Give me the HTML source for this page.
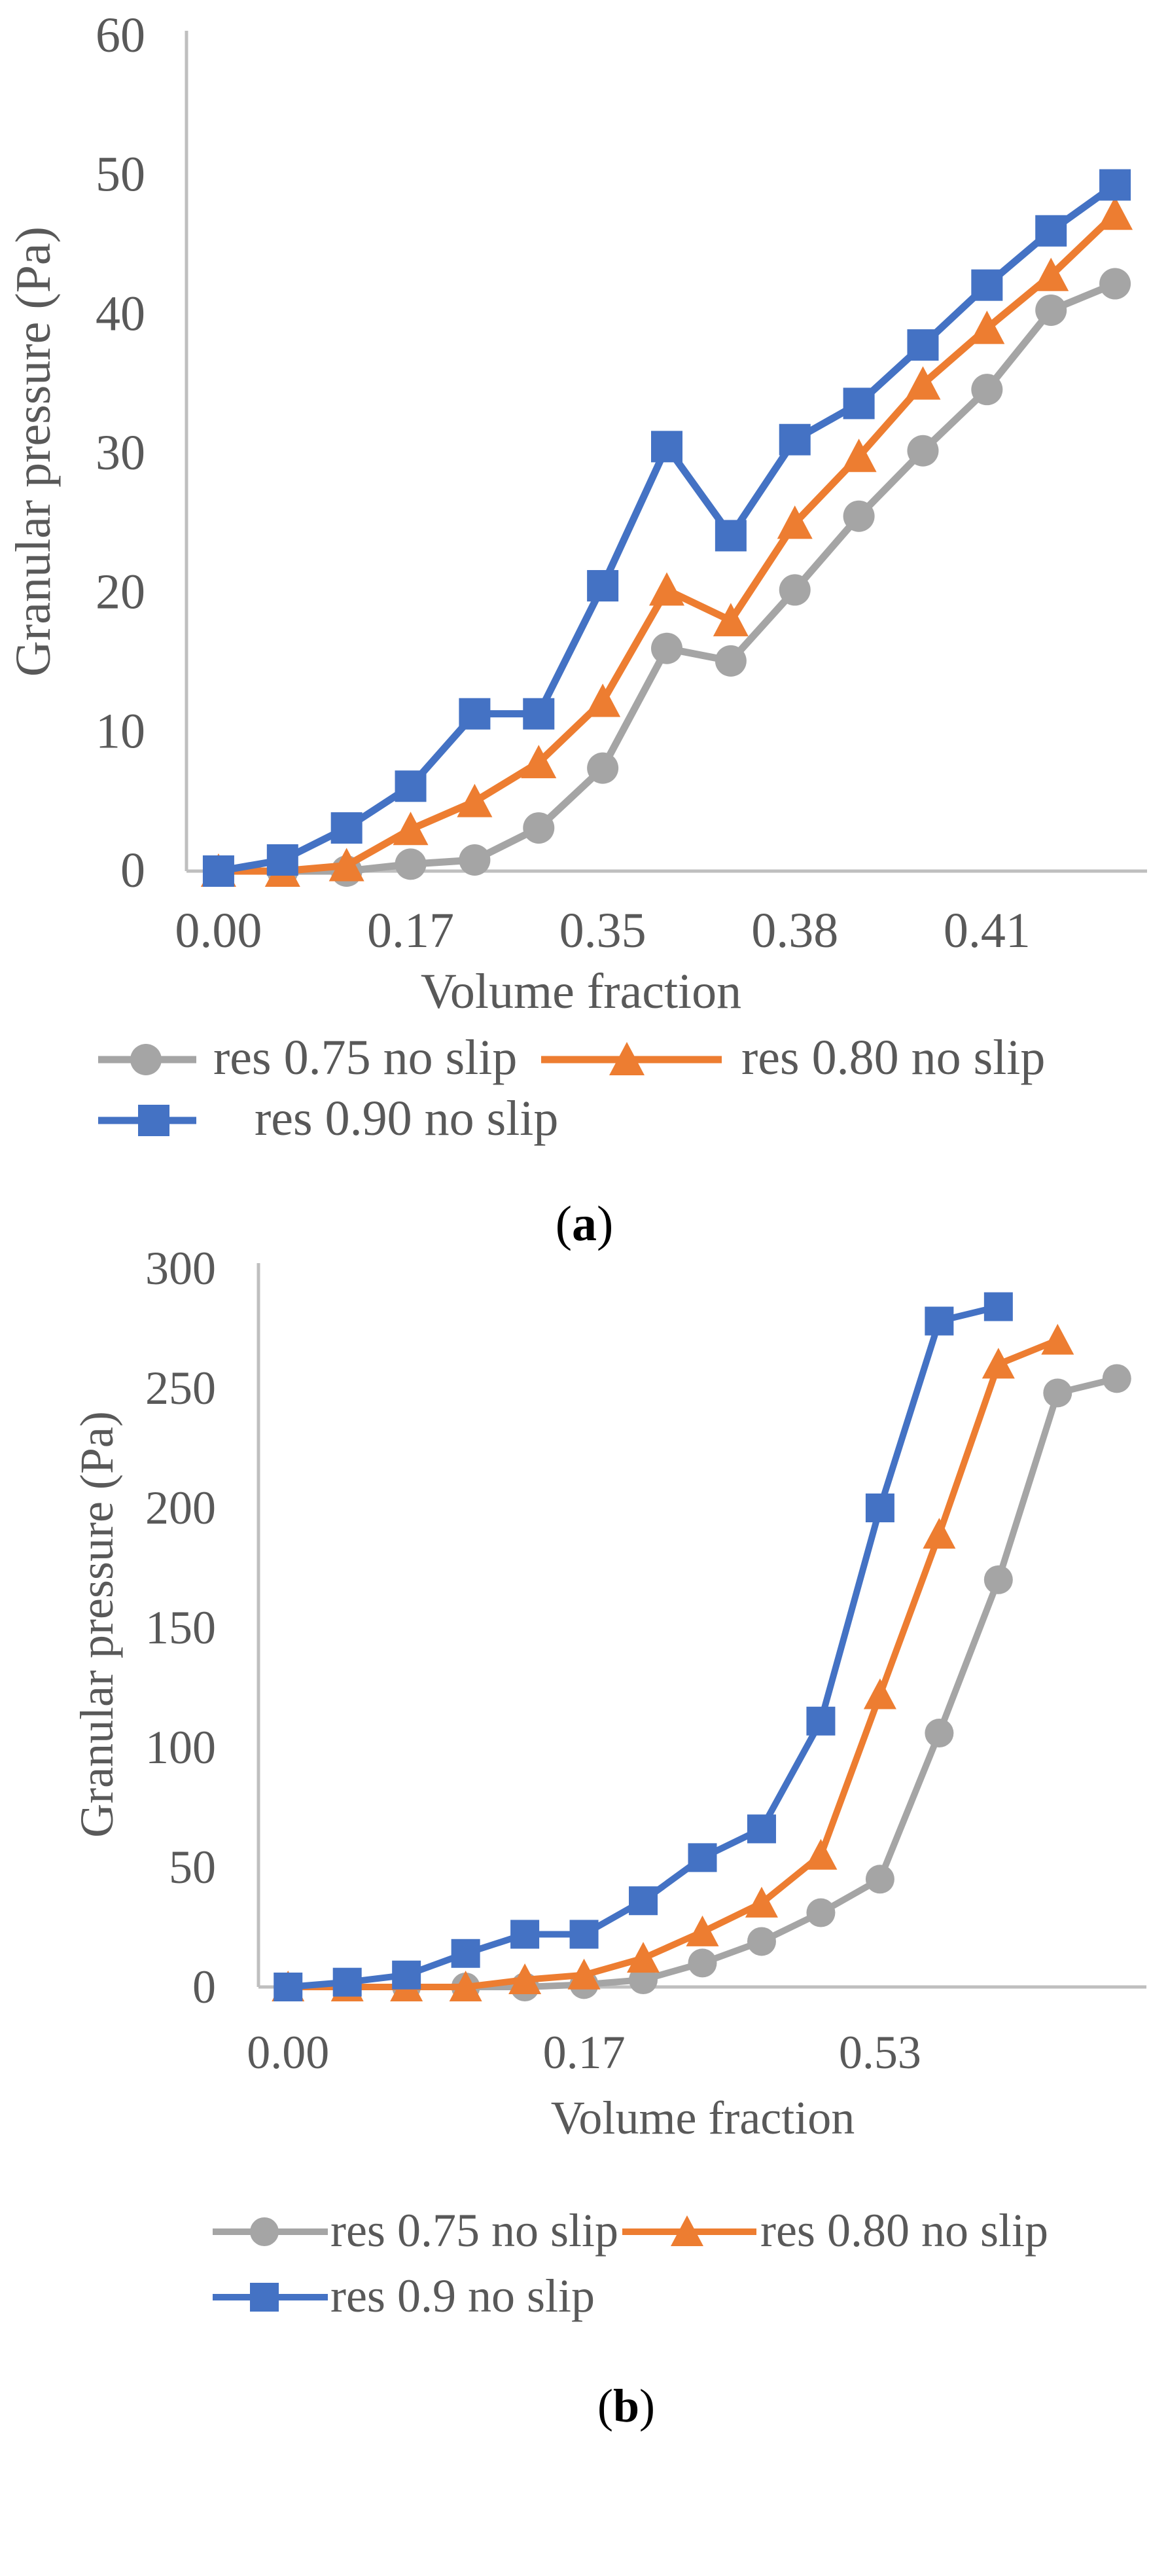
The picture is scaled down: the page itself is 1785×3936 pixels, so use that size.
<!DOCTYPE html>
<html><head><meta charset="utf-8"><style>
html,body{margin:0;padding:0;background:#fff;}
svg{display:block;font-family:"Liberation Serif",serif;}
</style></head><body>
<svg id="svg" width="1785" height="3936" viewBox="0 0 1785 3936" xmlns="http://www.w3.org/2000/svg"></svg>
<script>
const catsA = ["0.00","","","0.17","","","0.35","","","0.38","","","0.41","",""];
const grayA = [0,0,0,0.5,0.8,3.1,7.4,16,15.1,20.2,25.5,30.2,34.6,40.3,42.2];
const orangeA = [0,0,0.4,3,5,7.8,12.2,20.2,18,25,29.8,35,39,42.8,47.2];
const blueA = [0,0.8,3.1,6.1,11.3,11.3,20.5,30.5,24.1,31,33.6,37.8,42.1,46,49.3];
const ticksA = [0,10,20,30,40,50,60];
const catsB = ["0.00","","","","","0.17","","","","","0.53","","","",""];
const grayB = [0,0,0,0,0,1,3,10,19,31,45,106,170,248,254];
const orangeB = [0,0,0,0,3,5,12,23,35,55,122,189,260,270];
const blueB = [0,2,5,14,22,22,36,54,66,111,200,278,284];
const ticksB = [0,50,100,150,200,250,300];

const NS="http://www.w3.org/2000/svg";
const svg=document.getElementById('svg');
function mk(tag,attrs,parent){const e=document.createElementNS(NS,tag);for(const k in attrs)e.setAttribute(k,attrs[k]);(parent||svg).appendChild(e);return e;}
const GRAY="#a5a5a5",ORANGE="#ed7d31",BLUE="#4472c4",TXT="#595959",AX="#bfbfbf";

function marker(g,type,x,y,c,s){
  let m;
  if(type==='circle') m=mk('circle',{cx:x,cy:y,r:s/2,fill:c},g);
  else if(type==='square') m=mk('rect',{x:x-s/2,y:y-s/2,width:s,height:s,fill:c},g);
  else m=mk('polygon',{points:`${x},${y-s/2-3} ${x-s/2-3},${y+s/2} ${x+s/2+3},${y+s/2}`,fill:c},g);
  return m;
}

function chart(cfg){
  const g=mk('g',{});
  
  
  const {x0,x1,y0,y1,max,cats,ticks}=cfg;
  const cw=(x1-x0)/cats.length;
  const xs=i=>x0+cw*(i+0.5);
  const ys=v=>y0-(v/max)*(y0-y1);
  const ya=mk('line',{x1:x0,y1:y1-8,x2:x0,y2:y0,stroke:AX,'stroke-width':5},g);
  
  
  const xa=mk('line',{x1:x0,y1:y0,x2:x1,y2:y0,stroke:AX,'stroke-width':5},g);
  
  
  ticks.forEach(t=>{
    const tx=mk('text',{x:cfg.ylabR,y:ys(t)+24,'text-anchor':'end','font-size':cfg.fs,fill:TXT},g);
    tx.textContent=t;
    
    
  });
  cats.forEach((c,i)=>{
    if(!c)return;
    const tx=mk('text',{x:xs(i),y:cfg.xlabY,'text-anchor':'middle','font-size':cfg.fs,fill:TXT},g);
    tx.textContent=c;
    
    
  });
  const yt=mk('text',{x:0,y:0,'text-anchor':'middle','font-size':cfg.fs,fill:TXT,transform:`translate(${cfg.ytX},${cfg.ytY}) rotate(-90)`},g);
  yt.textContent='Granular pressure (Pa)';
  
  
  const xt=mk('text',{x:cfg.xtX,y:cfg.xtY,'text-anchor':'middle','font-size':cfg.fs,fill:TXT},g);
  xt.textContent='Volume fraction';
  
  
  cfg.series.forEach(s=>{
    const sg=mk('g',{},g);
    
    
    const pts=s.vals.map((v,i)=>xs(i)+','+ys(v)).join(' ');
    const pl=mk('polyline',{points:pts,fill:'none',stroke:s.c,'stroke-width':cfg.lw,'stroke-linejoin':'round'},sg);
    
    
    s.vals.forEach((v,i)=>{
      const m=marker(sg,s.m,xs(i),ys(v),s.c,cfg.ms);
      
      
    });
  });
  cfg.legend.forEach(l=>{
    const lg=mk('g',{},g);
    
    
    mk('line',{x1:l.lx1,y1:l.y,x2:l.lx2,y2:l.y,stroke:l.c,'stroke-width':cfg.lw},lg);
    marker(lg,l.m,l.mx,l.y,l.c,cfg.ms);
    const t=mk('text',{x:l.tx,y:l.y+22,'font-size':cfg.fs,fill:TXT},lg);
    t.textContent=l.t;
  });
  const cap=mk('text',{x:cfg.capX,y:cfg.capY,'text-anchor':'middle','font-size':cfg.fs,fill:'#000'},g);
  cap.innerHTML='(<tspan font-weight="bold">'+cfg.cap+'</tspan>)';
  
  
}

chart({name:'chart-a',x0:285,x1:1753,y0:1331,y1:55,max:60,cats:catsA,ticks:ticksA,fs:76,ylabR:222,xlabY:1447,
  ytX:76,ytY:690,xtX:888,xtY:1540,lw:11,ms:48,
  series:[{name:'series-res-0.75',vals:grayA,c:GRAY,m:'circle'},{name:'series-res-0.80',vals:orangeA,c:ORANGE,m:'triangle'},{name:'series-res-0.90',vals:blueA,c:BLUE,m:'square'}],
  legend:[{lx1:150,lx2:300,mx:223,y:1619,c:GRAY,m:'circle',tx:326,t:'res 0.75 no slip'},
          {lx1:827,lx2:1103,mx:958,y:1619,c:ORANGE,m:'triangle',tx:1133,t:'res 0.80 no slip'},
          {lx1:150,lx2:300,mx:235,y:1712,c:BLUE,m:'square',tx:389,t:'res 0.90 no slip'}],
  capX:893,capY:1895,cap:'a'});

chart({name:'chart-b',x0:395,x1:1752,y0:3036,y1:1938,max:300,cats:catsB,ticks:ticksB,fs:72,ylabR:330,xlabY:3160,
  ytX:172,ytY:2482,xtX:1074,xtY:3260,lw:10,ms:44,
  series:[{name:'series-res-0.75',vals:grayB,c:GRAY,m:'circle'},{name:'series-res-0.80',vals:orangeB,c:ORANGE,m:'triangle'},{name:'series-res-0.9',vals:blueB,c:BLUE,m:'square'}],
  legend:[{lx1:325,lx2:501,mx:404,y:3410,c:GRAY,m:'circle',tx:505,t:'res 0.75 no slip'},
          {lx1:951,lx2:1156,mx:1050,y:3410,c:ORANGE,m:'triangle',tx:1162,t:'res 0.80 no slip'},
          {lx1:325,lx2:501,mx:404,y:3510,c:BLUE,m:'square',tx:505,t:'res 0.9 no slip'}],
  capX:957,capY:3700,cap:'b'});
</script>
</body></html>
